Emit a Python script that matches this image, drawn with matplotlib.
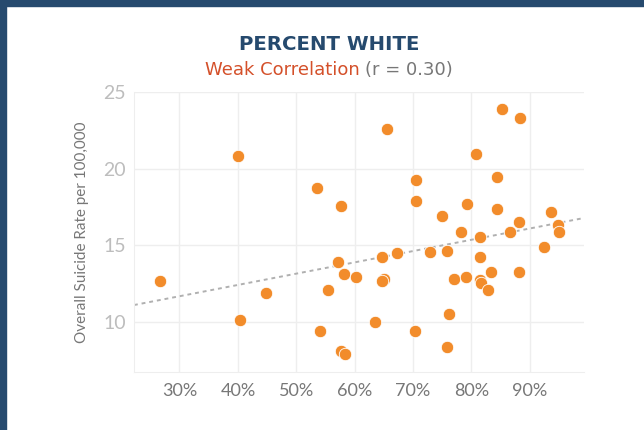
import matplotlib.pyplot as plt
from matplotlib.patches import Rectangle
import numpy as np

# percent white (x) vs overall suicide rate per 100,000 (y)
pct_white = [26.7, 40.1, 40.3, 44.8, 53.6, 57.6, 57.1, 58.1, 55.5, 54.1,
             57.7, 58.3, 60.3, 63.4, 65.6, 64.75, 65.0, 64.75, 67.2, 70.5,
             70.5, 70.3, 74.9, 72.9, 75.8, 76.1, 75.8, 77.0, 78.3, 79.3,
             79.1, 80.7, 81.4, 81.55, 81.4, 81.7, 82.8, 83.35, 84.3, 84.3,
             85.3, 86.6, 88.2, 88.2, 88.4, 92.4, 93.6, 94.9, 94.95]
suicide_rate = [12.69, 20.84, 10.14, 11.89, 18.74, 17.56, 13.95, 13.15, 12.08, 9.43,
                8.12, 7.93, 12.97, 10.04, 22.59, 14.26, 12.82, 12.69, 14.52, 19.28,
                17.93, 9.43, 16.93, 14.58, 14.65, 10.54, 8.37, 12.82, 15.85, 17.73,
                12.97, 20.98, 15.58, 14.28, 12.76, 12.56, 12.08, 13.26, 17.37, 19.47,
                23.89, 15.85, 16.56, 13.26, 23.32, 14.89, 17.19, 16.34, 15.91]

xticks = [30, 40, 50, 60, 70, 80, 90]
yticks = [10, 15, 20, 25]

navy = '#264a6e'
orange = '#f28c2b'

plt.rcParams['font.family'] = ['Lato', 'DejaVu Sans']

fig = plt.figure(figsize=(6.44, 4.30), dpi=100)
fig.add_artist(Rectangle((0, 0.986), 1, 0.014, transform=fig.transFigure, color=navy, zorder=0))
fig.add_artist(Rectangle((0, 0), 0.009, 1, transform=fig.transFigure, color=navy, zorder=0))

ax = fig.add_axes([0.208, 0.135, 0.699, 0.651])

# trend line
x = np.array(pct_white)
y = np.array(suicide_rate)
m, b = np.polyfit(x, y, 1)
xl = np.array([22.2, 99.3])
ax.plot(xl, m * xl + b, linestyle=(0, (2, 2)), color='#b0b0b0', linewidth=1.4, zorder=2)

ax.scatter(pct_white, suicide_rate, s=80, color=orange, edgecolor='white',
           linewidth=0.6, zorder=3)

ax.set_xlim(22.2, 99.3)
ax.set_ylim(6.76, 25)
ax.set_xticks(xticks)
ax.set_xticklabels([f'{t}%' for t in xticks])
ax.set_yticks(yticks)
ax.grid(True, color='#eeeeee', linewidth=1)
ax.set_axisbelow(True)
for s in ['top', 'right']:
    ax.spines[s].set_visible(False)
for s in ['left', 'bottom']:
    ax.spines[s].set_color('#eeeeee')
ax.tick_params(length=0)
ax.tick_params(axis='x', labelsize=13, labelcolor='#777777', pad=8)
ax.tick_params(axis='y', labelsize=14, labelcolor='#bdbdbd', pad=6)
ax.set_ylabel('Overall Suicide Rate per 100,000', fontsize=11, color='#777777', labelpad=10)

fig.text(0.511, 0.896, 'PERCENT WHITE', ha='center', va='center',
         fontsize=14.2, fontweight='bold', color=navy, family='DejaVu Sans')
t1 = fig.text(0.5, 0.838, 'Weak Correlation ', ha='left', va='center',
              fontsize=13, color='#d4502a', family='DejaVu Sans')
t2 = fig.text(0.5, 0.838, '(r = 0.30)', ha='left', va='center', fontsize=13,
              color='#777777', family='DejaVu Sans')
fig.canvas.draw()
r = fig.canvas.get_renderer()
w1 = t1.get_window_extent(r).width / fig.bbox.width
w2 = t2.get_window_extent(r).width / fig.bbox.width
x0 = 0.511 - (w1 + w2) / 2
t1.set_x(x0)
t2.set_x(x0 + w1)

fig.savefig('out.png', dpi=100)
